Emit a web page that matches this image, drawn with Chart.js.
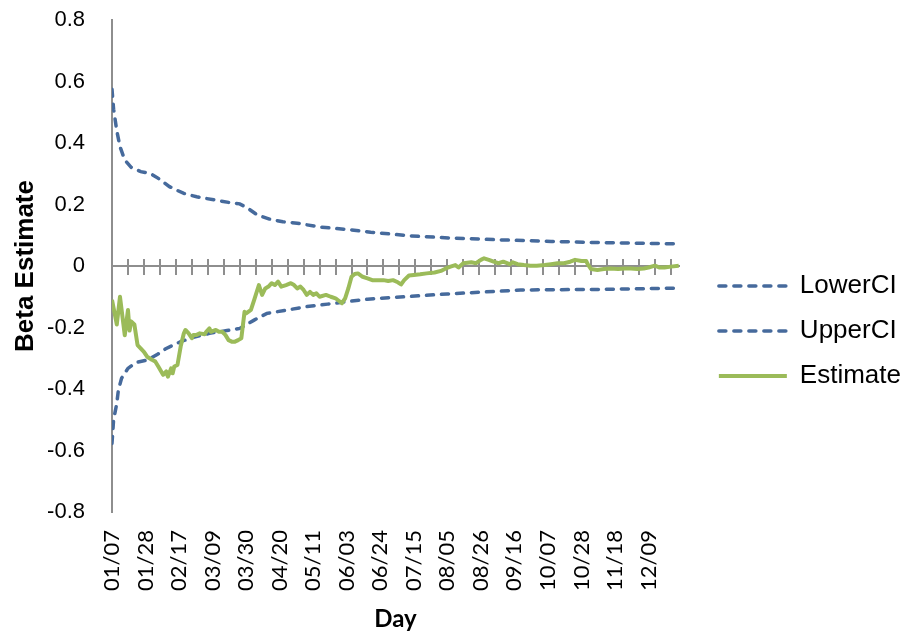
<!DOCTYPE html>
<html>
<head>
<meta charset="utf-8">
<script src="https://cdn.jsdelivr.net/npm/chart.js@4.4.1/dist/chart.umd.min.js"></script>
<style>
  html, body { margin: 0; padding: 0; background: #ffffff; }
  canvas { display: block; }
</style>
</head>
<body>
<canvas id="chart" width="901" height="632"></canvas>
<script>
// Date labels on the day axis, one every 21 trading days
const dayLabels = ['01/07', '01/28', '02/17', '03/09', '03/30', '04/20', '05/11', '06/03', '06/24',
                   '07/15', '08/05', '08/26', '09/16', '10/07', '10/28', '11/18', '12/09'];
const labelStep = 21;
const tickStep = 10;
const lastDay = 355;

// Rolling beta estimate (day index, value)
const estimateDays = [0, 3, 5, 8, 10, 11, 12, 14, 16, 20, 22, 25, 27, 29, 32, 34, 35, 37, 38, 39,
  41, 43, 45, 46, 48, 50, 51, 53, 55, 58, 59, 61, 62, 65, 67, 69, 71, 73, 75, 77,
  79, 81, 83, 84, 87, 89, 91, 92, 94, 96, 98, 100, 102, 104, 106, 109, 112, 114, 116, 118,
  120, 122, 124, 126, 128, 130, 134, 137, 140, 142, 144, 146, 148, 150, 152, 154, 157, 160, 163, 167,
  170, 173, 176, 179, 181, 183, 186, 189, 193, 197, 202, 206, 209, 212, 215, 217, 220, 225, 228, 231,
  233, 236, 239, 242, 245, 249, 251, 254, 258, 262, 266, 271, 275, 279, 283, 287, 290, 294, 297, 298,
  300, 304, 308, 312, 317, 321, 325, 329, 333, 336, 340, 343, 346, 350, 355];
const estimate = [-0.11, -0.19, -0.10, -0.225, -0.143, -0.21, -0.18, -0.19, -0.257, -0.279,
  -0.295, -0.305, -0.31, -0.327, -0.354, -0.343, -0.36, -0.333, -0.349, -0.327,
  -0.322, -0.262, -0.219, -0.208, -0.219, -0.235, -0.224, -0.224, -0.219, -0.222,
  -0.214, -0.203, -0.214, -0.208, -0.214, -0.214, -0.224, -0.241, -0.246, -0.246,
  -0.241, -0.235, -0.149, -0.154, -0.143, -0.111, -0.078, -0.062, -0.094, -0.073,
  -0.067, -0.056, -0.062, -0.051, -0.067, -0.062, -0.056, -0.062, -0.073, -0.067,
  -0.078, -0.094, -0.084, -0.094, -0.089, -0.10, -0.094, -0.10, -0.105, -0.113,
  -0.121, -0.105, -0.073, -0.035, -0.026, -0.024, -0.035, -0.04, -0.046, -0.046,
  -0.046, -0.049, -0.046, -0.053, -0.06, -0.046, -0.031, -0.029, -0.027, -0.024,
  -0.021, -0.016, -0.008, -0.002, 0.003, -0.005, 0.009, 0.012, 0.009, 0.02,
  0.025, 0.02, 0.014, 0.009, 0.014, 0.006, 0.012, 0.006, 0.003, 0.001,
  0.001, 0.003, 0.006, 0.009, 0.009, 0.014, 0.02, 0.016, 0.016, 0.005,
  -0.01, -0.013, -0.01, -0.008, -0.01, -0.008, -0.008, -0.01, -0.008, -0.005,
  0.001, -0.005, -0.005, -0.002, 0.001];

// Upper confidence bound
const upperDays = [0, 1, 3, 5, 8, 12, 18, 24, 29, 36, 45, 53, 64, 74, 80,
  85, 91, 99, 107, 116, 130, 149, 162, 187, 212, 243, 275, 306, 331, 355];
const upperCI = [0.575, 0.51, 0.44, 0.388, 0.345, 0.321, 0.307, 0.301, 0.285, 0.258, 0.236, 0.225, 0.215, 0.206, 0.202,
  0.188, 0.166, 0.152, 0.144, 0.139, 0.127, 0.118, 0.11, 0.098, 0.091, 0.085, 0.08, 0.076, 0.074, 0.072];

// Lower confidence bound
const lowerDays = [0, 1, 3, 4, 6, 10, 15, 22, 28, 34, 43, 51, 61, 72, 80,
  89, 97, 110, 122, 135, 147, 160, 168, 210, 256, 306, 355];
const lowerCI = [-0.577, -0.5, -0.447, -0.403, -0.365, -0.333, -0.314, -0.306, -0.289, -0.268, -0.246, -0.232, -0.219, -0.21, -0.203,
  -0.176, -0.154, -0.143, -0.132, -0.124, -0.116, -0.108, -0.105, -0.091, -0.078, -0.076, -0.072];

const toPoints = (days, values) => days.map((d, i) => ({ x: d, y: values[i] }));

const AXIS_GREY = '#8e8e8e';
const CI_BLUE = '#466a9c';
const EST_GREEN = '#9bbb59';

// Move the legend block a little right and down from where the layout puts it
const legendShift = { x: 21, y: 5 };
const legendNudge = {
  id: 'legendNudge',
  afterLayout(chart) {
    const lg = chart.legend;
    lg.left += legendShift.x; lg.right += legendShift.x;
    lg.top += legendShift.y; lg.bottom += legendShift.y;
  }
};

// Legend samples are drawn as line segments carrying each series' own stroke and dash
const legendLabels = (chart) =>
  Chart.defaults.plugins.legend.labels.generateLabels(chart).map((item) => {
    const ds = chart.data.datasets[item.datasetIndex];
    item.lineDash = ds.borderDash || [];
    item.lineCap = ds.borderCapStyle || 'butt';
    item.lineWidth = ds.borderWidth;
    item.strokeStyle = ds.borderColor;
    return item;
  });

// Zero line with cross tick marks: one axis ticks downward, a second one upward
const zeroAxis = (tickLength, showLine) => ({
  type: 'linear', axis: 'x', position: { y: 0 }, min: 0, max: lastDay,
  ticks: { display: false, stepSize: tickStep, includeBounds: false },
  grid: { display: true, drawOnChartArea: false, drawTicks: true, tickLength: tickLength, color: AXIS_GREY, lineWidth: 2 },
  border: { display: showLine, color: AXIS_GREY, width: 2 }
});

new Chart(document.getElementById('chart'), {
  type: 'line',
  data: {
    datasets: [
      { label: 'LowerCI', data: toPoints(lowerDays, lowerCI), xAxisID: 'x', yAxisID: 'y',
        borderColor: CI_BLUE, backgroundColor: CI_BLUE, borderWidth: 3.5, borderDash: [7, 8],
        borderCapStyle: 'round', pointRadius: 0, order: 1 },
      { label: 'UpperCI', data: toPoints(upperDays, upperCI), xAxisID: 'x', yAxisID: 'y',
        borderColor: CI_BLUE, backgroundColor: CI_BLUE, borderWidth: 3.5, borderDash: [7, 8],
        borderCapStyle: 'round', pointRadius: 0, order: 1 },
      { label: 'Estimate', data: toPoints(estimateDays, estimate), xAxisID: 'x', yAxisID: 'y',
        borderColor: EST_GREEN, backgroundColor: EST_GREEN, borderWidth: 4,
        borderJoinStyle: 'round', pointRadius: 0, order: 0 }
    ]
  },
  options: {
    responsive: false,
    devicePixelRatio: 1,
    animation: false,
    layout: { padding: { top: 20, right: 11, bottom: 0, left: 0 } },
    plugins: {
      tooltip: { enabled: false },
      legend: {
        position: 'right',
        labels: {
          usePointStyle: true, pointStyle: 'line', pointStyleWidth: 68,
          padding: 19, color: '#000000',
          font: { family: 'Liberation Sans', size: 26 },
          generateLabels: legendLabels,
          sort: (a, b) => a.datasetIndex - b.datasetIndex
        }
      }
    },
    scales: {
      x: {
        type: 'linear', position: 'bottom', min: 0, max: lastDay,
        grid: { display: false, drawTicks: false },
        border: { display: false },
        ticks: {
          stepSize: labelStep, includeBounds: false, autoSkip: false,
          maxRotation: 90, minRotation: 90, padding: 18,
          color: '#000000', font: { family: 'Lato', size: 22 },
          callback: (v) => dayLabels[Math.round(v / labelStep)] ?? ''
        },
        title: {
          display: true, text: 'Day', color: '#000000',
          font: { family: 'Lato', size: 24, weight: 'bold', lineHeight: 1 },
          padding: { top: 0, bottom: 1 }
        },
        afterFit: (s) => { s.height = 120; }
      },
      xz: zeroAxis(8, true),
      xzUp: zeroAxis(-7, false),
      y: {
        min: -0.8, max: 0.8,
        // no visible grid or tick marks; the tick length only spaces the labels from the axis line
        grid: { display: true, drawOnChartArea: false, drawTicks: true, tickLength: 27, tickColor: 'rgba(0,0,0,0)' },
        border: { display: true, color: AXIS_GREY, width: 2 },
        ticks: {
          stepSize: 0.2, padding: 0, color: '#000000',
          font: { family: 'Liberation Sans', size: 22 },
          callback: (v) => String(Number(v.toFixed(1)))
        },
        title: {
          display: true, text: 'Beta Estimate', color: '#000000',
          font: { family: 'Liberation Sans', size: 26, weight: 'bold' },
          padding: { top: 10, bottom: 0 }
        },
        afterFit: (s) => { s.width = 112; }
      }
    }
  },
  plugins: [legendNudge]
});
</script>
</body>
</html>
